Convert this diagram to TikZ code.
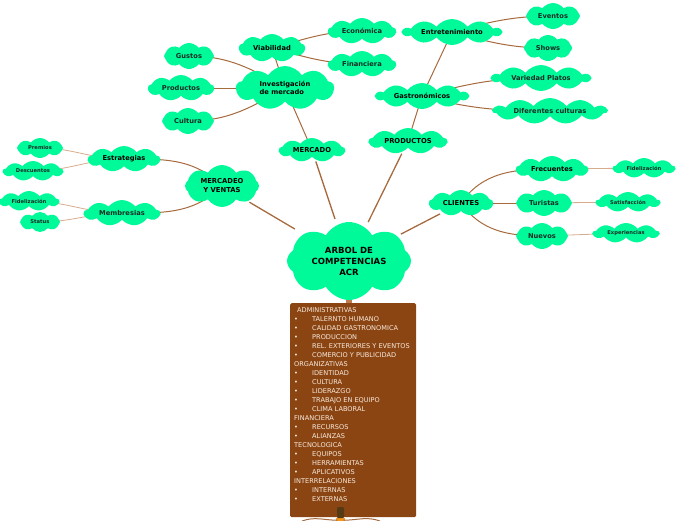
\documentclass[tikz,border=0pt]{standalone}
\usepackage{fontspec}
\setmainfont{DejaVu Sans}
\usetikzlibrary{shapes.symbols}
\definecolor{sgreen}{RGB}{0,250,154}
\definecolor{lnk}{RGB}{166,106,62}
\definecolor{lnkl}{RGB}{215,172,140}
\definecolor{boxc}{RGB}{139,69,19}
\definecolor{boxtxt}{RGB}{248,234,220}
\definecolor{trunkc}{RGB}{192,122,78}
\definecolor{lbl}{RGB}{22,45,36}
\definecolor{stubc}{RGB}{85,58,20}
\definecolor{orangec}{RGB}{245,150,30}
\pgfdeclarelayer{background}
\pgfsetlayers{background,main}
\newcommand\bl[1]{\makebox[18pt][l]{•}#1}
\tikzset{
  cl/.style={cloud, cloud ignores aspect, cloud puffs=9, cloud puff arc=105,
    fill=sgreen, draw=none, inner sep=0pt, text=lbl, align=center,
    font=\bfseries\fontsize{6.7}{8}\selectfont},
  clbig/.style={cl, text=black, font=\bfseries\fontsize{6.8}{9}\selectfont},
  clsm/.style={cl, font=\bfseries\fontsize{5.2}{6}\selectfont},
  lk/.style={draw=lnk, line width=1pt},
  lkl/.style={draw=lnkl, line width=0.8pt},
  tr/.style={draw=lnk, line width=1.3pt}
}
\begin{document}
\begin{tikzpicture}[x=1pt,y=1pt]
\useasboundingbox (0,0) rectangle (696,-520);
% central cloud
\node[cl, text=black, minimum width=124, minimum height=78, cloud puffs=8, cloud puff arc=120,
  font=\bfseries\fontsize{8.5}{11}\selectfont] (arbol) at (349,-261) {ARBOL DE\\COMPETENCIAS\\ACR};
% level 1
\node[clbig, minimum width=66, minimum height=24] (mercado) at (312,-150) {MERCADO};
\node[clbig, minimum width=78, minimum height=26] (produ) at (408,-141) {PRODUCTOS};
\node[clbig, minimum width=74, minimum height=42, cloud puffs=8, cloud puff arc=115] (merc) at (222,-186) {MERCADEO\\Y VENTAS};
\node[clbig, minimum width=64, minimum height=26] (cli) at (461,-203) {CLIENTES};
% mercado branch
\node[cl, text=black, minimum width=98, minimum height=44, cloud puff arc=115, align=left] (inv) at (285,-88) {Investigación\\de mercado};
\node[cl, text=black, minimum width=66, minimum height=28] (viab) at (272,-48) {Viabilidad};
\node[cl, minimum width=68, minimum height=26] (econ) at (362,-31) {Económica};
\node[cl, minimum width=68, minimum height=26] (fin) at (362,-64) {Financiera};
\node[cl, minimum width=50, minimum height=26, cloud puffs=8] (gustos) at (189,-56) {Gustos};
\node[cl, minimum width=66, minimum height=26] (prod) at (181,-88) {Productos};
\node[cl, minimum width=52, minimum height=26, cloud puffs=8] (cult) at (188,-121) {Cultura};
% mercadeo branch
\node[cl, text=black, minimum width=72, minimum height=26] (estr) at (124,-159) {Estrategias};
\node[cl, minimum width=76, minimum height=26] (memb) at (122,-213) {Membresias};
\node[clsm, minimum width=46, minimum height=20, cloud puffs=8] (prem) at (40,-148) {Premios};
\node[clsm, minimum width=60, minimum height=20] (desc) at (33,-171) {Descuentos};
\node[clsm, minimum width=60, minimum height=20] (fidl) at (29,-201) {Fidelización};
\node[clsm, minimum width=40, minimum height=20, cloud puffs=8] (stat) at (40,-222) {Status};
% productos branch
\node[cl, text=black, minimum width=92, minimum height=26, cloud puffs=10] (gastro) at (422,-96) {Gastronómicos};
\node[cl, text=black, minimum width=98, minimum height=26, cloud puffs=10] (entre) at (452,-32) {Entretenimiento};
\node[cl, minimum width=54, minimum height=26, cloud puffs=8] (evt) at (553,-16) {Eventos};
\node[cl, minimum width=48, minimum height=26, cloud puffs=8] (shows) at (548,-48) {Shows};
\node[cl, minimum width=98, minimum height=26, cloud puffs=10] (varp) at (541,-78) {Variedad Platos};
\node[cl, minimum width=114, minimum height=26, cloud puffs=11] (difc) at (550,-111) {Diferentes culturas};
% clientes branch
\node[cl, text=black, minimum width=72, minimum height=26] (frec) at (552,-169) {Frecuentes};
\node[cl, minimum width=56, minimum height=26, cloud puffs=8] (tur) at (544,-203) {Turistas};
\node[cl, minimum width=52, minimum height=26, cloud puffs=8] (nue) at (542,-236) {Nuevos};
\node[clsm, minimum width=62, minimum height=20] (fidr) at (644,-168) {Fidelización};
\node[clsm, minimum width=64, minimum height=20] (sat) at (628,-202) {Satisfacción};
\node[clsm, minimum width=66, minimum height=20] (exp) at (626,-233) {Experiencias};
% box
\node[fill=boxc, rounded corners=1.5pt, minimum width=126, minimum height=214, inner sep=0pt, anchor=north west] (box) at (290,-303) {};
\node[anchor=north west, inner sep=0pt, align=left, text=boxtxt, font=\fontsize{6.6}{9}\selectfont] (boxtext) at (294,-307.5)
{\hspace{3pt}ADMINISTRATIVAS\\
\bl{TALERNTO HUMANO}\\
\bl{CALIDAD GASTRONOMICA}\\
\bl{PRODUCCION}\\
\bl{REL. EXTERIORES Y EVENTOS}\\
\bl{COMERCIO Y PUBLICIDAD}\\
ORGANIZATIVAS\\
\bl{IDENTIDAD}\\
\bl{CULTURA}\\
\bl{LIDERAZGO}\\
\bl{TRABAJO EN EQUIPO}\\
\bl{CLIMA LABORAL}\\
FINANCIERA\\
\bl{RECURSOS}\\
\bl{ALIANZAS}\\
TECNOLOGICA\\
\bl{EQUIPOS}\\
\bl{HERRAMIENTAS}\\
\bl{APLICATIVOS}\\
INTERRELACIONES\\
\bl{INTERNAS}\\
\bl{EXTERNAS}};
\node[fill=stubc, rounded corners=1pt, minimum width=7, minimum height=11, inner sep=0pt] (stub) at (340.5,-512.5) {};
\coordinate (bl) at (302,-521);
\coordinate (br) at (380,-521);
\begin{pgfonlayer}{background}
% trunk
\draw[draw=trunkc, line width=6pt] (arbol.center) -- (arbol.center |- box.north);
\fill[orangec] (stub.south west) ++(-1,0.5) rectangle ++(9,-4);
\draw[lk] (stub.south) ++(-3,-2) to[out=180,in=20] (bl);
\draw[lk] (stub.south) ++(3,-2) to[out=0,in=160] (br);
% main trunks
\draw[tr, shorten <=2pt, shorten >=6pt] (mercado) -- (arbol);
\draw[tr, shorten <=2pt, shorten >=6pt] (produ) -- (arbol);
\draw[tr, shorten <=2pt, shorten >=10pt] (merc) -- (arbol);
\draw[tr, shorten <=3pt, shorten >=4pt] (cli) -- (arbol);
% mercado branch
\draw[lk] (mercado.center) -- (inv.center);
\draw[lk] (inv.center) -- (viab.center);
\draw[lk] (viab.center) to[out=15,in=180] (econ.center);
\draw[lk] (viab.center) to[out=-15,in=180] (fin.center);
\draw[lk] (inv.center) to[out=150,in=0] (gustos.center);
\draw[lk] (inv.center) -- (prod.center);
\draw[lk] (inv.center) to[out=210,in=0] (cult.center);
% mercadeo
\draw[lk] (merc.center) to[out=135,in=0] (estr.center);
\draw[lk] (merc.center) to[out=225,in=0] (memb.center);
\draw[lkl] (estr.center) to[out=180,in=0] (prem.center);
\draw[lkl] (estr.center) to[out=180,in=0] (desc.center);
\draw[lkl] (memb.center) to[out=180,in=0] (fidl.center);
\draw[lkl] (memb.center) to[out=180,in=0] (stat.center);
% productos
\draw[lk] (produ.center) -- (gastro.center);
\draw[lk] (gastro.center) -- (entre.center);
\draw[lk] (entre.center) to[out=15,in=180] (evt.center);
\draw[lk] (entre.center) to[out=-15,in=180] (shows.center);
\draw[lk] (gastro.center) to[out=15,in=180] (varp.center);
\draw[lk] (gastro.center) to[out=-15,in=180] (difc.center);
% clientes
\draw[lk] (cli.center) to[out=55,in=180] (frec.center);
\draw[lk] (cli.center) -- (tur.center);
\draw[lk] (cli.center) to[out=-55,in=180] (nue.center);
\draw[lkl] (frec.center) -- (fidr.center);
\draw[lkl] (tur.center) -- (sat.center);
\draw[lkl] (nue.center) -- (exp.center);
\end{pgfonlayer}
\end{tikzpicture}
\end{document}
